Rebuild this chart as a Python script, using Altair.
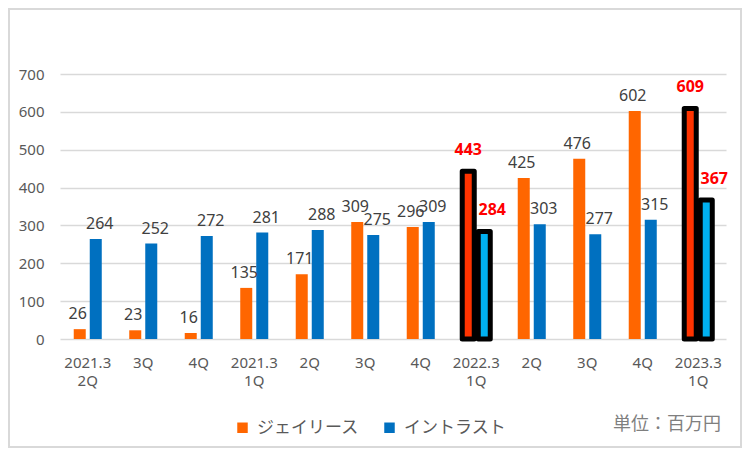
import altair as alt
import pandas as pd

# ---- data ----
categories = ["2021.3~2Q", "3Q", "4Q", "2021.3~1Q", "2Q", "3Q", "4Q",
              "2022.3~1Q", "2Q", "3Q", "4Q", "2023.3~1Q"]
series_names = ["ジェイリース", "イントラスト"]
jlease = [26, 23, 16, 135, 171, 309, 296, 443, 425, 476, 602, 609]
intrust = [264, 252, 272, 281, 288, 275, 309, 284, 303, 277, 315, 367]
highlight_idx = [7, 11]
y_ticks = [0, 100, 200, 300, 400, 500, 600, 700]
unit_text = "単位：百万円"

colors = ["#FF6600", "#0070C0"]
hl_colors = ["#FF3300", "#00B0F0"]

rows = []
for i, cat in enumerate(categories):
    key = f"{i:02d}|{cat}"
    for s, vals, c, hc in zip(series_names, [jlease, intrust], colors, hl_colors):
        rows.append({
            "key": key,
            "series": s,
            "value": vals[i],
            "hl": i in highlight_idx,
            "hfill": hc,
        })
df = pd.DataFrame(rows)

NUM_FONT = "Noto Sans"
JP_FONT = "Noto Sans CJK JP"

x_enc = alt.X(
    "key:O",
    sort="ascending",
    scale=alt.Scale(paddingInner=0.495, paddingOuter=0.2475),
    axis=alt.Axis(
        title=None, labelAngle=0, ticks=False, domain=False,
        labelExpr="split(split(datum.label, '|')[1], '~')",
        labelFont=NUM_FONT, labelFontSize=15, labelColor="#595959",
        labelPadding=16, labelLineHeight=18,
    ),
)
xoff_enc = alt.XOffset("series:N", scale=alt.Scale(domain=series_names, paddingInner=0.25))
y_enc = alt.Y(
    "value:Q",
    scale=alt.Scale(domain=[0, 700], nice=False),
    axis=alt.Axis(
        title=None, values=y_ticks, ticks=False, domain=False,
        labelFont=NUM_FONT, labelFontSize=15, labelColor="#595959",
        labelPadding=16, gridColor="#D9D9D9", gridWidth=1.5,
    ),
)

base = alt.Chart(df)

bars = base.mark_bar().encode(
    x=x_enc, xOffset=xoff_enc, y=y_enc,
    color=alt.Color(
        "series:N",
        scale=alt.Scale(domain=series_names, range=colors),
        legend=alt.Legend(
            title=None, orient="none", legendX=174, legendY=345,
            direction="horizontal", symbolType="square", symbolSize=110,
            symbolStrokeWidth=0, labelFont=JP_FONT, labelFontSize=17,
            labelColor="#595959", columnPadding=22, labelOffset=6, padding=0,
        ),
    ),
)

hl_bars = base.transform_filter("datum.hl").mark_bar(
    stroke="black", strokeWidth=5, strokeJoin="round"
).encode(
    x=x_enc, xOffset=xoff_enc, y=y_enc,
    fill=alt.Fill("hfill:N", scale=None),
)


def label_layer(series, is_hl, dx, dy):
    flt = f"datum.series == '{series}' && {'datum.hl' if is_hl else '!datum.hl'}"
    if is_hl:
        mk = base.transform_filter(flt).mark_text(
            baseline="bottom", dx=dx, dy=dy, font=NUM_FONT, fontSize=16,
            fontWeight="bold", color="#FF0000")
    else:
        mk = base.transform_filter(flt).mark_text(
            baseline="bottom", dx=dx, dy=dy, font=NUM_FONT, fontSize=16,
            color="#404040")
    return mk.encode(x=x_enc, xOffset=xoff_enc, y=y_enc, text="value:Q")


labels = [
    label_layer(series_names[0], False, -2, -7),
    label_layer(series_names[1], False, 4, -7),
    label_layer(series_names[0], True, 0, -13),
    label_layer(series_names[1], True, 8, -13),
]

unit = alt.Chart(pd.DataFrame({"t": [unit_text]})).mark_text(
    align="right", baseline="middle", font=JP_FONT, fontSize=18, color="#7F7F7F"
).encode(x=alt.value(661), y=alt.value(351), text="t:N")

border = alt.Chart(pd.DataFrame({"t": [0]})).mark_rect(
    fill=None, stroke="#D9D9D9", strokeWidth=2
).encode(x=alt.value(-51), x2=alt.value(681), y=alt.value(-65), y2=alt.value(373))

chart = alt.layer(border, bars, hl_bars, *labels, unit).properties(
    width=666, height=265,
    autosize=alt.AutoSizeParams(type="none"),
    padding={"left": 52, "top": 66, "right": 16, "bottom": 109},
    background="white",
).configure_view(stroke=None)

chart.save("out.html", embed_options={"renderer": "svg", "actions": False})
